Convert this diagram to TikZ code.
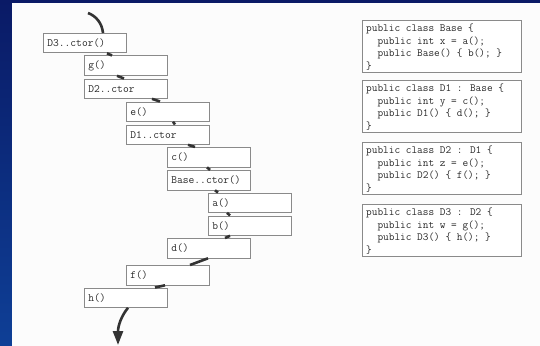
\documentclass[tikz,border=0pt]{standalone}
\usepackage{fontspec}
\usetikzlibrary{arrows.meta,calc}
\definecolor{bgblueA}{HTML}{0A1A66}
\definecolor{bgblueB}{HTML}{0E3F96}
\definecolor{panel}{HTML}{FCFCFC}
\definecolor{boxline}{HTML}{8A8A8A}
\definecolor{txt}{HTML}{2A2A2A}
\definecolor{connc}{HTML}{333333}
\begin{document}
\begin{tikzpicture}[x=1pt,y=-1pt,
 callbox/.style={draw=boxline, line width=0.8pt, fill=white, anchor=north west,
   minimum width=83pt, minimum height=19.5pt, inner xsep=4pt, inner ysep=0pt,
   text width=75pt, font=\ttfamily\fontsize{11.2}{12}\selectfont, text=txt},
 codebox/.style={draw=boxline, line width=0.8pt, fill=white, anchor=north west,
   minimum width=159pt, minimum height=52pt, inner sep=0pt},
 codetext/.style={anchor=north west, inner sep=0pt, text=txt,
   font=\ttfamily\fontsize{11}{12.6}\selectfont},
 conn/.style={line width=2.6pt, draw=connc},
]
\useasboundingbox (0,0) rectangle (540,345);
\shade[top color=bgblueA, bottom color=bgblueB] (0,0) rectangle (540,345);
\fill[panel] (12,3) rectangle (550,355);

% call boxes
\node[callbox] (D3) at (43,33) {D3..ctor()};
\node[callbox] (g) at (84,55.5) {g()};
\node[callbox] (D2) at (84,78.5) {D2..ctor};
\node[callbox] (e) at (126,101.5) {e()};
\node[callbox] (D1) at (126,124.5) {D1..ctor};
\node[callbox] (c) at (167,147) {c()};
\node[callbox] (Base) at (167,170) {Base..ctor()};
\node[callbox] (a) at (208,192.5) {a()};
\node[callbox] (b) at (208,215.5) {b()};
\node[callbox] (d) at (167,238) {d()};
\node[callbox] (f) at (126,265) {f()};
\node[callbox] (h) at (84,287.5) {h()};

% connectors
\coordinate (topstart) at (88,13);
\draw[conn] (topstart) .. controls (96,16) and (102,23) .. ([xshift=60pt]D3.north west);
\draw[conn] ([xshift=64pt]D3.south west) -- ([xshift=28pt]g.north west);
\draw[conn] ([xshift=33pt]g.south west) -- ([xshift=40pt]D2.north west);
\draw[conn] ([xshift=68pt]D2.south west) -- ([xshift=34pt]e.north west);
\draw[conn] ([xshift=47pt]e.south west) -- ([xshift=49pt]D1.north west);
\draw[conn] ([xshift=62pt]D1.south west) -- ([xshift=28pt]c.north west);
\draw[conn] ([xshift=40pt]c.south west) -- ([xshift=43pt]Base.north west);
\draw[conn] ([xshift=48pt]Base.south west) -- ([xshift=10pt]a.north west);
\draw[conn] ([xshift=19pt]a.south west) -- ([xshift=22pt]b.north west);
\draw[conn] ([xshift=22pt]b.south west) -- ([xshift=58pt]d.north west);
\draw[conn] ([xshift=41pt]d.south west) -- ([xshift=64pt]f.north west);
\draw[conn] ([xshift=39pt]f.south west) -- ([xshift=71pt]h.north west);
\coordinate (botend) at (118,345);
\draw[conn,-{Triangle[length=14pt,width=10pt]}] ([xshift=44pt]h.south west)
  .. controls (122,315) and (118,325) .. (botend);

% code boxes
\node[codebox] (cBase) at (362,20) {};
\node[codebox] (cD1) at (362,80) {};
\node[codebox] (cD2) at (362,142) {};
\node[codebox] (cD3) at (362,204) {};
\node[codetext] (tBase) at ([xshift=4pt,yshift=-2.5pt]cBase.north west) {\begin{tabular}{@{}l@{}}
public class Base \{\\
\phantom{xx}public int x = a();\\
\phantom{xx}public Base() \{ b(); \}\\
\}\end{tabular}};
\node[codetext] (tD1) at ([xshift=4pt,yshift=-2.5pt]cD1.north west) {\begin{tabular}{@{}l@{}}
public class D1 : Base \{\\
\phantom{xx}public int y = c();\\
\phantom{xx}public D1() \{ d(); \}\\
\}\end{tabular}};
\node[codetext] (tD2) at ([xshift=4pt,yshift=-2.5pt]cD2.north west) {\begin{tabular}{@{}l@{}}
public class D2 : D1 \{\\
\phantom{xx}public int z = e();\\
\phantom{xx}public D2() \{ f(); \}\\
\}\end{tabular}};
\node[codetext] (tD3) at ([xshift=4pt,yshift=-2.5pt]cD3.north west) {\begin{tabular}{@{}l@{}}
public class D3 : D2 \{\\
\phantom{xx}public int w = g();\\
\phantom{xx}public D3() \{ h(); \}\\
\}\end{tabular}};
\end{tikzpicture}
\end{document}
